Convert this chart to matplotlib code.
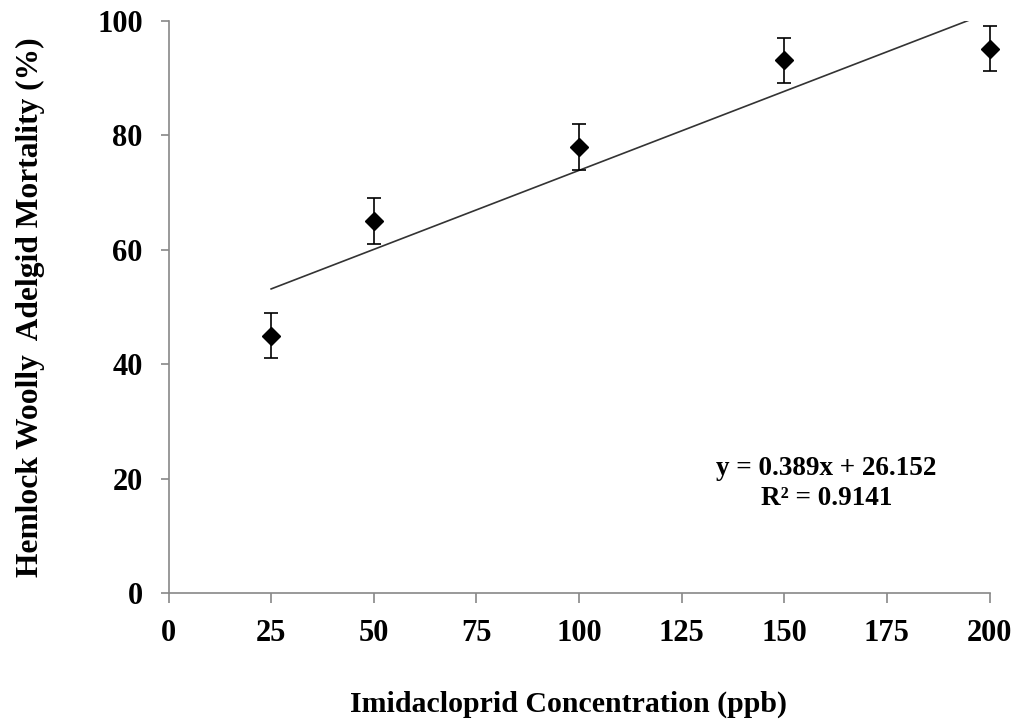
import numpy as np
import matplotlib
matplotlib.use("Agg")
import matplotlib.pyplot as plt

# Mortality of hemlock woolly adelgid vs. imidacloprid concentration
concentration = [25, 50, 100, 150, 200]          # ppb
mortality = [45.0, 65.0, 78.0, 93.1, 95.1]       # %
mortality_err = [3.9, 4.0, 4.0, 3.9, 3.9]
x_ticks = [0, 25, 50, 75, 100, 125, 150, 175, 200]
y_ticks = [0, 20, 40, 60, 80, 100]
equation_lines = ["y = 0.389x + 26.152", "R\u00b2 = 0.9141"]

plt.rcParams['font.family'] = ['Liberation Serif', 'DejaVu Serif']
plt.rcParams['font.weight'] = 'bold'

W, H = 1022, 721
fig = plt.figure(figsize=(W / 100, H / 100), dpi=100)
left_px, right_px, top_px, bottom_px = 168.5, 989.5, 20.7, 593.3
ax = fig.add_axes([left_px / W, 1 - bottom_px / H,
                   (right_px - left_px) / W, (bottom_px - top_px) / H])

# linear trendline fitted to the means
slope, intercept = np.polyfit(concentration, mortality, 1)
xs = np.array([concentration[0], concentration[-1]])
ax.plot(xs, slope * xs + intercept, color='#333333', lw=1.2, zorder=1)

eb = ax.errorbar(concentration, mortality, yerr=mortality_err, fmt='D', color='black',
                 ms=9, ecolor='black', elinewidth=1.2, capsize=4.8, capthick=1.2, zorder=3)
for artist in (eb.lines[0],) + tuple(eb.lines[1]) + tuple(eb.lines[2]):
    artist.set_clip_on(False)

ax.set_xlim(0, 200)
ax.set_ylim(0, 100)
ax.set_xticks(x_ticks)
ax.set_yticks(y_ticks)
ax.set_xticklabels([str(v) for v in x_ticks])
ax.set_yticklabels([str(v) for v in y_ticks])

for side in ('top', 'right'):
    ax.spines[side].set_visible(False)
for side in ('left', 'bottom'):
    ax.spines[side].set_color('#888888')
    ax.spines[side].set_linewidth(1.2)

ax.tick_params(axis='both', direction='out', width=1.2, color='#888888', labelsize=22)
ax.tick_params(axis='x', length=7.5, pad=11)
ax.tick_params(axis='y', length=6, pad=12.5)
for lab in ax.get_xticklabels() + ax.get_yticklabels():
    lab.set_fontweight('bold')

# regression equation, centred block inside the plot area
eq_x = 826.5 / W
for line, base_px in zip(equation_lines, [475, 505]):
    fig.text(eq_x, 1 - base_px / H, line, ha='center', va='baseline',
             fontsize=19.5, fontweight='bold')

fig.text(568 / W, 1 - 712 / H, "Imidacloprid Concentration (ppb)",
         ha='center', va='baseline', fontsize=21.5, fontweight='bold')
fig.text(30 / W, 1 - 307 / H, "Hemlock Woolly  Adelgid Mortality (%)",
         ha='center', va='center', rotation=90, fontsize=22.7, fontweight='bold')

fig.savefig("out.png", dpi=100)
